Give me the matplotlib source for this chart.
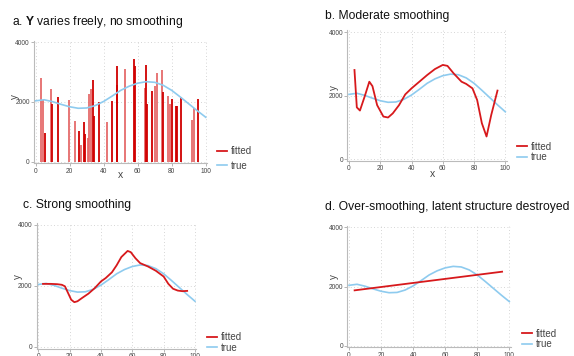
import matplotlib
matplotlib.use("Agg")
import matplotlib.pyplot as plt

plt.rcParams['font.family'] = ['Liberation Sans', 'DejaVu Sans']
plt.rcParams['mathtext.fontset'] = 'custom'
plt.rcParams['mathtext.rm'] = 'Liberation Sans'
plt.rcParams['mathtext.bf'] = 'Liberation Sans:bold'

NARROW = ['Liberation Sans Narrow', 'Liberation Sans', 'DejaVu Sans']

# true latent curve
true_x = [0, 5, 10, 15, 20, 25, 30, 35, 40, 45, 50, 55, 60, 65, 70, 75, 80, 85, 90, 95, 100]
true_y = [2040, 2075, 2010, 1920, 1840, 1790, 1800, 1880, 2020, 2200, 2390, 2530,
          2630, 2680, 2660, 2560, 2390, 2170, 1940, 1710, 1490]

# panel a: one value per observation, no smoothing
obs_x = [3.3, 4.5, 5.7, 8.8, 9.6, 13.3, 19.6, 23.0, 25.7, 26.9, 28.6, 29.2, 31.0, 31.6,
         32.4, 33.7, 34.5, 37.5, 41.8, 44.7, 47.6, 48.0, 52.5, 58.0, 58.6, 64.3, 64.9,
         65.5, 68.6, 70.2, 71.2, 74.5, 74.9, 78.0, 79.0, 80.4, 82.4, 82.9, 85.5, 92.0,
         93.1, 95.7]
obs_y = [2800, 2080, 950, 2420, 1940, 2180, 2070, 1360, 1030, 560, 1330, 920, 780, 2270,
         2440, 2740, 1530, 1990, 1320, 2040, 3210, 2570, 3100, 3430, 3210, 2480, 3230,
         1940, 2380, 2540, 2980, 3060, 2350, 2210, 1940, 2100, 1870, 1870, 2160, 1400,
         1790, 2100]
obs_dark = [0, 0, 1, 0, 1, 1, 0, 0, 1, 0, 1, 1, 0, 0,
            0, 1, 1, 1, 0, 1, 1, 1, 0, 1, 1, 0, 1,
            1, 1, 0, 0, 0, 1, 0, 0, 1, 1, 1, 1, 0,
            0, 1]

# panel b: moderate smoothing
mod_x = [3.5, 5, 7, 10, 13, 15, 18, 22, 25, 28, 32, 36, 40, 45, 50, 55, 60, 63, 67, 72,
         75, 79, 82, 85, 88, 91, 95]
mod_y = [2810, 1630, 1530, 1970, 2440, 2300, 1700, 1340, 1310, 1440, 1700, 2040, 2230,
         2440, 2650, 2840, 2970, 2940, 2700, 2440, 2370, 2230, 1860, 1130, 710, 1390, 2160]

# panel c: strong smoothing
strong_x = [3, 8, 12, 15, 17, 19, 21, 23, 25, 28, 32, 36, 40, 43, 47, 50, 53, 57, 59, 62,
            65, 70, 75, 80, 83, 86, 89, 92, 95]
strong_y = [2060, 2060, 2050, 2030, 1980, 1760, 1540, 1460, 1490, 1600, 1740, 1920, 2140,
            2250, 2440, 2670, 2940, 3140, 3100, 2900, 2740, 2630, 2490, 2300, 2060, 1900,
            1840, 1820, 1830]

# panel d: over-smoothing (straight line)
over_x = [3.5, 95.5]
over_y = [1870, 2500]

RED = '#d7191c'
BLUE = '#8ecbef'
GREY = '#444444'

W, H = 574, 356
fig = plt.figure(figsize=(W / 100, H / 100), dpi=100)

XL = (-1.0, 100.8)
YL = (-60, 4060)


def make_axes(px0, px100, py0, py4000):
    # place axes so that data 0/100 and 0/4000 land on the given pixels
    sx = (px100 - px0) / 100.0
    sy = (py0 - py4000) / 4000.0
    left = px0 + XL[0] * sx
    right = px0 + XL[1] * sx
    bottom = py0 - YL[0] * sy
    top = py0 - YL[1] * sy
    ax = fig.add_axes([left / W, 1 - bottom / H, (right - left) / W, (bottom - top) / H])
    ax.set_xlim(*XL)
    ax.set_ylim(*YL)
    ax.set_xticks([0, 20, 40, 60, 80, 100])
    ax.set_yticks([0, 2000, 4000])
    for x in [0, 20, 40, 60, 80, 100]:
        ax.axvline(x, color='#c8c8c8', lw=0.6, ls=(0, (1, 3)), zorder=0)
    for y in [0, 2000, 4000]:
        ax.axhline(y, color='#c8c8c8', lw=0.6, ls=(0, (1, 3)), zorder=0)
    for s in ['top', 'right']:
        ax.spines[s].set_visible(False)
    for s in ['left', 'bottom']:
        ax.spines[s].set_color('#bbbbbb')
        ax.spines[s].set_linewidth(0.8)
    ax.tick_params(length=2, width=0.5, color='#999999', labelsize=4.8,
                   labelcolor='#444444', pad=1)
    for lab in ax.get_xticklabels() + ax.get_yticklabels():
        lab.set_family(NARROW)
    return ax


def add_title(text, x, y):
    fig.text(x / W, 1 - y / H, text, fontsize=8.7, color='#111111', va='center', ha='left')


def add_labels(ax, yx, yy, xx=None, xy=None):
    fig.text(yx / W, 1 - yy / H, 'y', fontsize=7, rotation=90, color=GREY,
             ha='center', va='center')
    if xx is not None:
        fig.text(xx / W, 1 - xy / H, 'x', fontsize=7.5, color=GREY, ha='center', va='center')


def add_legend(ax, x, y, spacing=0.05):
    ax.legend(loc='center left', bbox_to_anchor=(x / W, 1 - y / H),
              bbox_transform=fig.transFigure, frameon=False,
              prop={'family': NARROW, 'size': 7},
              handlelength=1.0, handletextpad=0.4, labelspacing=spacing, borderpad=0,
              labelcolor=GREY)


# a
ax = make_axes(35.7, 205.7, 161.7, 42.3)
dark_x = [x for x, d in zip(obs_x, obs_dark) if d]
dark_y = [y for y, d in zip(obs_y, obs_dark) if d]
light_x = [x for x, d in zip(obs_x, obs_dark) if not d]
light_y = [y for y, d in zip(obs_y, obs_dark) if not d]
ax.vlines(light_x, 0, light_y, color='#e56b6b', lw=1.3, zorder=2)
ax.vlines(dark_x, 0, dark_y, color='#d00000', lw=1.3, zorder=2)
ax.plot([], [], color=RED, lw=1.3, label='fitted')
ax.plot(true_x, true_y, color=BLUE, lw=1.2, label='true', zorder=3)
add_title(r'a. $\mathbf{Y}$ varies freely, no smoothing', 12.5, 22)
add_labels(ax, 15, 97, 121, 175)
add_legend(ax, 212, 158.5, spacing=0.45)

# b
ax = make_axes(349, 505.3, 159, 32.3)
ax.plot(mod_x, mod_y, color=RED, lw=1.3, label='fitted', zorder=3)
ax.plot(true_x, true_y, color=BLUE, lw=1.2, label='true', zorder=2)
add_title('b. Moderate smoothing', 325, 16)
add_labels(ax, 333.5, 88, 432, 174)
add_legend(ax, 512, 152)

# c
ax = make_axes(38.3, 195, 346.7, 224.7)
ax.plot(strong_x, strong_y, color=RED, lw=1.3, label='fitted', zorder=3)
ax.plot(true_x, true_y, color=BLUE, lw=1.2, label='true', zorder=2)
add_title('c. Strong smoothing', 23, 205)
add_labels(ax, 18, 277)
add_legend(ax, 202, 342.5)

# d
ax = make_axes(349, 509.3, 345.7, 227.3)
ax.plot(over_x, over_y, color=RED, lw=1.3, label='fitted', zorder=3)
ax.plot(true_x, true_y, color=BLUE, lw=1.2, label='true', zorder=2)
add_title('d. Over-smoothing, latent structure destroyed', 325, 207)
add_labels(ax, 333.5, 277)
add_legend(ax, 517, 339)

fig.savefig('out.png', dpi=100)
